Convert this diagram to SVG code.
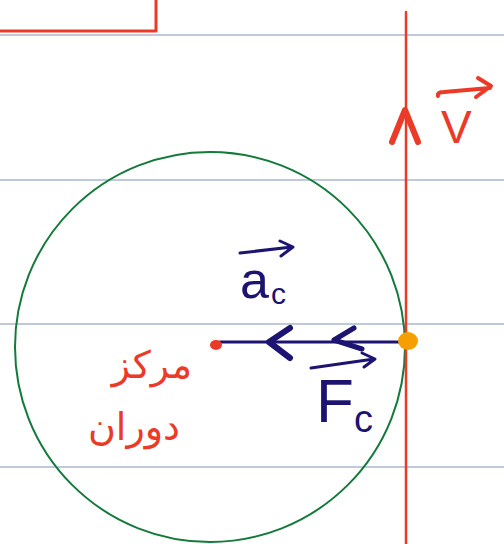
<svg xmlns="http://www.w3.org/2000/svg" width="504" height="544" viewBox="0 0 504 544">
<style>
.rule{stroke:#bfc9da;stroke-width:2;fill:none}
.red{stroke:#ec3a28;fill:none;stroke-linecap:round;stroke-linejoin:round}
.navy{stroke:#1c1470;fill:none;stroke-linecap:round;stroke-linejoin:round}
.lbl-navy{fill:#1c1470;font-family:"Liberation Sans","DejaVu Sans",sans-serif}
.lbl-red{fill:#ec3a28;font-family:"Liberation Sans","DejaVu Sans",sans-serif}
.fa{fill:#ec3a28;font-family:"DejaVu Sans","Noto Sans",sans-serif}
</style>
<rect width="504" height="544" fill="#ffffff"/>
<g id="ruled-lines">
<line class="rule" x1="0" y1="35" x2="504" y2="35"/>
<line class="rule" x1="0" y1="180" x2="504" y2="180"/>
<line class="rule" x1="0" y1="324" x2="504" y2="324"/>
<line class="rule" x1="0" y1="467" x2="504" y2="467"/>
</g>
<g id="box-corner">
<path class="red" d="M0 31 H156 V0" stroke-width="3" stroke-linecap="butt"/>
</g>
<g id="circle-path">
<circle cx="210" cy="347" r="195" fill="none" stroke="#137a3b" stroke-width="2"/>
</g>
<g id="connectors">
<g id="velocity-line">
<line class="red" x1="406" y1="12" x2="406" y2="544" stroke-width="2.5"/>
<path class="red" d="M392 142 L405 110 L418 142" stroke-width="6"/>
</g>
<g id="force-line">
<line class="navy" x1="220" y1="342" x2="406" y2="342" stroke-width="3"/>
<path class="navy" d="M290 328 L269 342 L290 358" stroke-width="6"/>
<path class="navy" d="M354 328 L334 340 L362 349" stroke-width="5"/>
</g>
</g>
<g id="center">
<ellipse cx="216" cy="345" rx="6" ry="5" fill="#ec3a28"/>
</g>
<g id="object">
<ellipse cx="408" cy="341" rx="10" ry="9" fill="#f5a000"/>
</g>
<g id="label-v">
<path class="red" d="M438 96 Q437 92 444 92 L490 88 M478 78 L491 86 L476 97" stroke-width="4"/>
<text class="lbl-red" x="441" y="143" font-size="46">V</text>
</g>
<g id="label-ac">
<path class="navy" d="M240 253 L292 247 M280 241 L293 247 L281 256" stroke-width="3"/>
<text class="lbl-navy" x="240" y="298" font-size="52">a<tspan font-size="30" dx="2" dy="6">c</tspan></text>
</g>
<g id="label-fc">
<path class="navy" d="M311 368 L374 359 M362 353 L375 359 L364 367" stroke-width="3"/>
<text class="lbl-navy" x="316" y="422" font-size="62">F<tspan font-size="38" dy="10">c</tspan></text>
</g>
<g id="label-center">
<text class="fa" x="152" y="378" font-size="38" text-anchor="middle">مرکز</text>
<text class="fa" x="134" y="440" font-size="38" text-anchor="middle">دوران</text>
</g>
</svg>
